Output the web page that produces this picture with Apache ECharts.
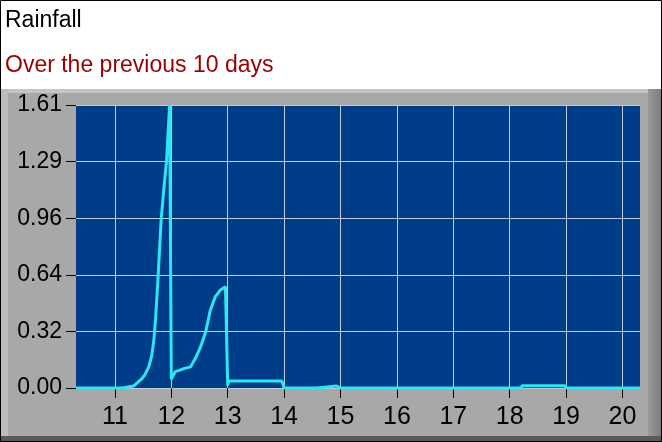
<!DOCTYPE html>
<html>
<head>
<meta charset="utf-8">
<script src="https://cdn.jsdelivr.net/npm/echarts@6/dist/echarts.min.js"></script>
<style>
html,body{margin:0;padding:0;background:#fff;}
#chart{width:662px;height:442px;}
</style>
</head>
<body>
<div id="chart"></div>
<script>
var titleText = 'Rainfall';
var subtitleText = 'Over the previous 10 days';
var yTickLabels = ['0.00','0.32','0.64','0.96','1.29','1.61'];
var xTickValues = [11,12,13,14,15,16,17,18,19,20];
var days = [10.31,11.13,11.16,11.33,11.40,11.47,11.53,11.60,11.65,11.69,11.72,11.76,11.82,11.87,11.915,11.97,11.995,12.0,12.02,12.07,12.14,12.22,12.34,12.43,12.52,12.61,12.69,12.78,12.87,12.96,12.99,13.0,13.02,13.96,14.0,14.58,14.6,14.93,14.96,15.0,18.2,18.22,18.98,19.0,20.31];
var rain = [0,0,0.011,0.011,0.03,0.05,0.075,0.12,0.18,0.27,0.39,0.60,0.96,1.14,1.29,1.61,1.61,0.05,0.055,0.093,0.10,0.11,0.12,0.17,0.235,0.32,0.44,0.52,0.557,0.576,0.58,0.015,0.04,0.04,0,0,0.011,0.011,0.015,0,0,0.013,0.013,0,0];

var data = days.map(function(d,i){return [d, rain[i]];});
var font = '"Liberation Sans", Arial, sans-serif';

var chart = echarts.init(document.getElementById('chart'), null, {renderer:'canvas'});
chart.setOption({
  animation: false,
  backgroundColor: '#ffffff',
  graphic: [
    {type:'rect', z:-10, silent:true, shape:{x:0,y:89,width:662,height:353}, style:{fill:'#a8a8a8'}},
    {type:'rect', z:-9, silent:true, shape:{x:0,y:89,width:662,height:4}, style:{fill:'#c4c4c4'}},
    {type:'rect', z:-9, silent:true, shape:{x:0,y:89,width:8,height:353}, style:{fill:'#bcbcbc'}},
    {type:'rect', z:-9, silent:true, shape:{x:648,y:89,width:14,height:353}, style:{fill:new echarts.graphic.LinearGradient(0,0,1,0,[{offset:0,color:'#9a9a9a'},{offset:1,color:'#7a7a7a'}])}},
    {type:'rect', z:-9, silent:true, shape:{x:0,y:436,width:662,height:6}, style:{fill:'#5a5a5a'}},
    {type:'rect', z:-8, silent:true, shape:{x:0.5,y:0.5,width:661,height:441}, style:{fill:null, stroke:'#000', lineWidth:1}},
    {type:'text', silent:true, x:5, y:21, style:{text:titleText, font:'23px ' + font, fill:'#000', verticalAlign:'middle'}},
    {type:'text', silent:true, x:5, y:66, style:{text:subtitleText, font:'23px ' + font, fill:'#990000', verticalAlign:'middle'}}
  ],
  grid: {left:76, right:22, top:105, bottom:54, show:true, backgroundColor:'#003d88', borderWidth:0},
  xAxis: {
    type:'value', min:10.31, max:20.31,
    axisLine:{show:false},
    axisTick:{show:true, length:10, lineStyle:{color:'#000', width:1}, customValues: xTickValues},
    axisLabel:{color:'#000', fontSize:25, fontFamily:font, margin:17, customValues: xTickValues, formatter:function(v){return String(Math.round(v));}},
    splitLine:{show:true, lineStyle:{color:'#c0cce0', width:1}}
  },
  yAxis: {
    type:'value', min:0, max:1.61, interval:0.322,
    axisLine:{show:false},
    axisTick:{show:true, length:10, lineStyle:{color:'#000', width:1}},
    axisLabel:{color:'#000', fontSize:23, fontFamily:font, margin:14, formatter:function(v){return yTickLabels[Math.round(v/0.322)];}},
    splitLine:{show:true, lineStyle:{color:'#c0cce0', width:1}}
  },
  series: [{
    type:'line', data:data, showSymbol:false, clip:false,
    lineStyle:{color:'#2ee6f2', width:3}
  }]
});
</script>
</body>
</html>
